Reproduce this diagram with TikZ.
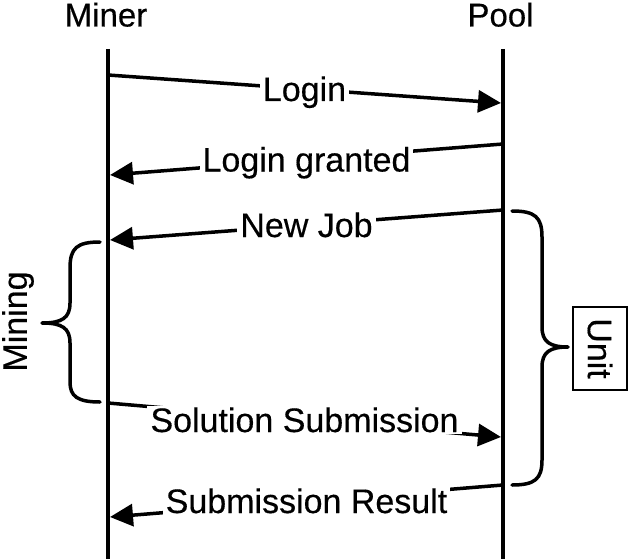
\documentclass[tikz,border=0pt]{standalone}
\usepackage{fontspec}
\setmainfont{Liberation Sans}[FakeBold=0.4]
\usetikzlibrary{arrows.meta}
\tikzset{
  lifeline/.style={line width=3.5pt},
  msg/.style={line width=3.5pt,-{Triangle[length=23pt,width=22pt]}},
  lbl/.style={fill=white,inner xsep=3pt,inner ysep=2pt,text height=24pt,text depth=0pt,anchor=center},
  actor/.style={anchor=base,inner sep=0pt,font=\fontsize{33}{40}\selectfont},
  bracepath/.style={line width=3.5pt,line join=round,line cap=round},
  big/.style={font=\fontsize{34}{40}\selectfont}
}
\begin{document}
\begin{tikzpicture}[x=1pt,y=-1pt,big]
\useasboundingbox (0,0) rectangle (628,559);
% actors
\node[actor] (miner) at (106,26.5) {Miner};
\node[actor] (pool) at (500.5,26.5) {Pool};
% lifelines
\coordinate (mtop) at (108,49);
\coordinate (mbot) at (108,559);
\coordinate (ptop) at (503,49);
\coordinate (pbot) at (503,559);
\draw[lifeline] (mtop) -- (mbot);
\draw[lifeline] (ptop) -- (pbot);
% message endpoints
\coordinate (m1) at (108,75);  \coordinate (p1) at (501,103);
\coordinate (p2) at (503,144); \coordinate (m2) at (110,175);
\coordinate (p3) at (503,210); \coordinate (m3) at (110,240);
\coordinate (m4) at (108,403); \coordinate (p4) at (501,437);
\coordinate (p5) at (503,485); \coordinate (m5) at (110,517);
% messages
\draw[msg] (m1) -- node[lbl] (login) {Login} (p1);
\draw[msg] (p2) -- node[lbl] (granted) {Login granted} (m2);
\draw[msg] (p3) -- node[lbl] (newjob) {New Job} (m3);
\draw[msg] (m4) -- node[lbl] (solution) {Solution Submission} (p4);
\draw[msg] (p5) -- node[lbl] (result) {Submission Result} (m5);
% Mining brace
\coordinate (mbtop) at (100,242);
\coordinate (mbtip) at (42,323);
\coordinate (mbbot) at (100,402);
\draw[bracepath] (mbtop) .. controls (77,242) and (70,248) .. (70,268)
  -- (70,303) .. controls (70,318) and (62,323) .. (mbtip)
  .. controls (62,323) and (70,328) .. (70,343)
  -- (70,382) .. controls (70,396) and (77,402) .. (mbbot);
\node[rotate=90,inner sep=0pt] (mining) at (18,321.5) {Mining};
% Unit brace
\coordinate (ubtop) at (512,211);
\coordinate (ubtip) at (568,347);
\coordinate (ubbot) at (512,485);
\draw[bracepath] (ubtop) .. controls (535,211) and (542,217) .. (542,237)
  -- (542,327) .. controls (542,342) and (550,347) .. (ubtip)
  .. controls (550,347) and (542,352) .. (542,367)
  -- (542,460) .. controls (542,479) and (535,485) .. (ubbot);
\node[draw,line width=1.8pt,rotate=-90,inner sep=0pt,minimum width=83pt,minimum height=54pt] (unit) at (600,348.5) {Unit};
\end{tikzpicture}
\end{document}
